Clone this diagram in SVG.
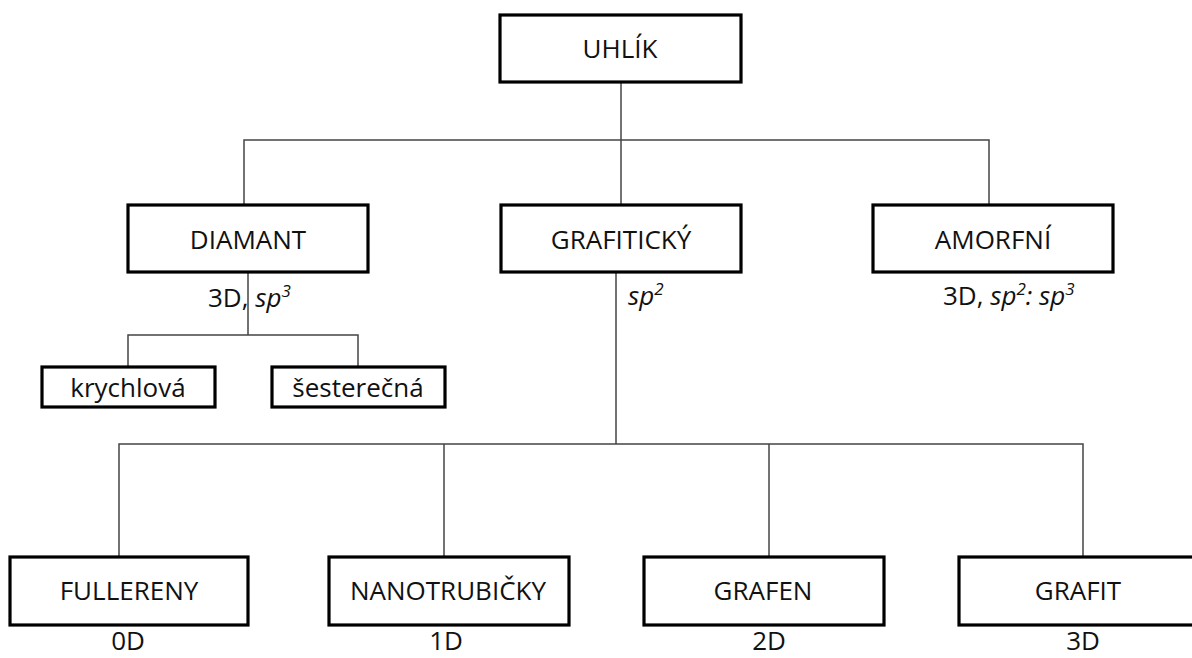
<svg xmlns="http://www.w3.org/2000/svg" width="1192" height="658" viewBox="0 0 1192 658">
<style>
.box{fill:#fff;stroke:#000;stroke-width:3.2}
.t{font-family:"Open Sans","Liberation Sans",sans-serif;font-size:26px;fill:#111;text-anchor:middle}
.l{font-family:"Open Sans","Liberation Sans",sans-serif;font-size:26px;fill:#111}
.i{font-style:italic}
.c{fill:none;stroke:#444;stroke-width:1.5}
</style>
<rect width="1192" height="658" fill="#fff"/>
<g id="connectors">
<path class="c" d="M621,82 V205"/>
<path class="c" d="M244,205 V140 H989 V205"/>
<path class="c" d="M248,272 V335"/>
<path class="c" d="M128,367 V335 H358 V367"/>
<path class="c" d="M616,272 V444"/>
<path class="c" d="M119,557 V444 H1083 V557"/>
<path class="c" d="M444,444 V557"/>
<path class="c" d="M769,444 V557"/>
</g>
<g id="uhlik">
<rect class="box" x="500" y="15" width="241" height="67"/>
<text class="t" x="620" y="58">UHLÍK</text>
</g>
<g id="diamant">
<rect class="box" x="128" y="205" width="240" height="67"/>
<text class="t" x="248" y="249">DIAMANT</text>
<text class="l" x="208" y="307">3D, <tspan class="i">sp</tspan><tspan class="i" font-size="17" dy="-10">3</tspan></text>
</g>
<g id="grafiticky">
<rect class="box" x="501" y="205" width="240" height="67"/>
<text class="t" x="621" y="249">GRAFITICKÝ</text>
<text class="l" x="628" y="305"><tspan class="i">sp</tspan><tspan class="i" font-size="17" dy="-10">2</tspan></text>
</g>
<g id="amorfni">
<rect class="box" x="873" y="205" width="240" height="67"/>
<text class="t" x="993" y="249">AMORFNÍ</text>
<text class="l" x="943" y="305">3D, <tspan class="i">sp</tspan><tspan class="i" font-size="17" dy="-10">2</tspan><tspan class="i" dy="10">: sp</tspan><tspan class="i" font-size="17" dy="-10">3</tspan></text>
</g>
<g id="krychlova">
<rect class="box" x="42" y="367" width="173" height="40"/>
<text class="t" x="128" y="397">krychlová</text>
</g>
<g id="sesterecna">
<rect class="box" x="272" y="367" width="173" height="40"/>
<text class="t" x="358" y="397">šesterečná</text>
</g>
<g id="fullereny">
<rect class="box" x="10" y="557" width="238" height="68"/>
<text class="t" x="129" y="600">FULLERENY</text>
<text class="t" x="128" y="650">0D</text>
</g>
<g id="nanotrubicky">
<rect class="box" x="329" y="557" width="240" height="68"/>
<text class="t" x="448" y="600">NANOTRUBIČKY</text>
<text class="t" x="446" y="650">1D</text>
</g>
<g id="grafen">
<rect class="box" x="644" y="557" width="240" height="68"/>
<text class="t" x="763" y="600">GRAFEN</text>
<text class="t" x="769" y="650">2D</text>
</g>
<g id="grafit">
<rect class="box" x="959" y="557" width="238" height="68"/>
<text class="t" x="1078" y="600">GRAFIT</text>
<text class="t" x="1083" y="650">3D</text>
</g>
</svg>
